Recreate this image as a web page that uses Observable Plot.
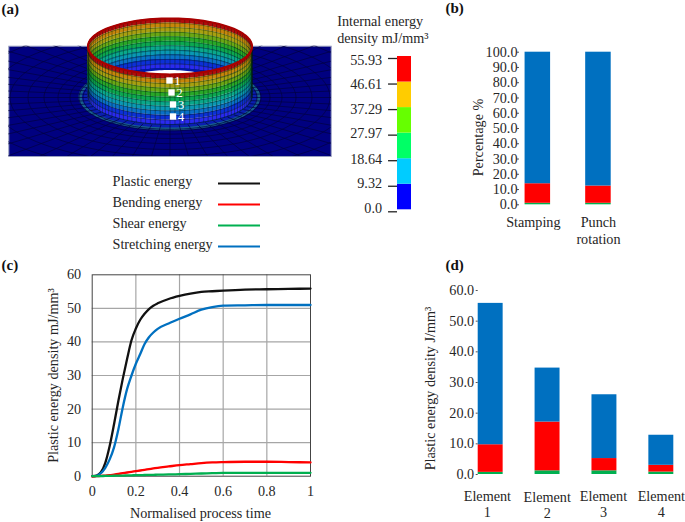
<!DOCTYPE html>
<html>
<head>
<meta charset="utf-8">
<script src="https://cdn.jsdelivr.net/npm/d3@7"></script>
<script src="https://cdn.jsdelivr.net/npm/@observablehq/plot@0.6"></script>
<style>
html,body{margin:0;padding:0;background:#fff;}
#page{position:relative;width:685px;height:522px;overflow:hidden;}
</style>
</head>
<body>
<div id="page"></div>
<script>
// ---------- data ----------
const energySeries = ["Plastic energy", "Bending energy", "Shear energy", "Stretching energy"];
const energyColors = ["#111111", "#ff0000", "#00b050", "#0070c0"];

const stackColors = ["#00b050", "#ff0000", "#0070c0"];

const methodCategories = ["Stamping", "Punch\nrotation"];
const methodLabelNudge = [-4.5, 0];
const methodShear = [1.0, 1.0];
const methodBending = [12.8, 11.3];
const methodStretching = [86.2, 87.7];
const percentTicks = [0, 10, 20, 30, 40, 50, 60, 70, 80, 90, 100];

const elementCategories = ["Element\n1", "Element\n2", "Element\n3", "Element\n4"];
const elementLabelNudgeX = [-3.3, -0.3, -1, 0];
const elementLabelNudgeY = [0, 1.5, 0, 0];
const elementShear = [0.7, 1.2, 1.2, 0.8];
const elementBending = [9.0, 15.9, 4.0, 2.2];
const elementStretching = [46.1, 17.6, 20.8, 9.8];
const densityTicks = [0, 10, 20, 30, 40, 50, 60];

const timeGrid = [0, 0.02, 0.04, 0.06, 0.08, 0.1, 0.12, 0.14, 0.16, 0.18, 0.2, 0.22, 0.24, 0.26, 0.28, 0.3, 0.35, 0.4, 0.45, 0.5, 0.55, 0.6, 0.7, 0.8, 0.9, 1];
const plasticCurve = [0, 0.2, 1.2, 4, 9, 15.5, 22.5, 29, 35, 40.5, 44, 46.6, 48.4, 49.8, 50.8, 51.5, 52.8, 53.7, 54.4, 54.9, 55.1, 55.3, 55.6, 55.7, 55.8, 55.9];
const stretchingCurve = [0, 0.1, 0.9, 2.5, 5, 8.6, 14, 20.5, 26, 30, 33.5, 36.4, 39.4, 41.4, 42.8, 43.9, 45.5, 46.9, 48.2, 49.6, 50.4, 50.8, 50.9, 51, 51, 51];
const bendingCurve = [-0.1, 0, 0.1, 0.2, 0.3, 0.5, 0.7, 0.9, 1.1, 1.3, 1.5, 1.7, 1.9, 2.1, 2.3, 2.5, 2.9, 3.3, 3.6, 3.9, 4.1, 4.2, 4.3, 4.3, 4.2, 4.1];
const shearCurve = [0, 0.02, 0.05, 0.07, 0.1, 0.13, 0.16, 0.19, 0.22, 0.26, 0.3, 0.33, 0.36, 0.39, 0.42, 0.45, 0.52, 0.6, 0.7, 0.8, 0.9, 1, 1, 1, 1, 1];

const contourValues = [0, 9.32, 18.64, 27.97, 37.29, 46.61, 55.93];
const contourLabels = ["0.0", "9.32", "18.64", "27.97", "37.29", "46.61", "55.93"];
const contourNudge = [-1.3, -1, 1, 0.6, 2, 2.3, 4];
const contourColors = ["#0000ff", "#00ccff", "#00ff66", "#66ff00", "#ffcc00", "#ff0000"];

const elementMarkers = [
  {label: "1", x: 169, y: 80},
  {label: "2", x: 171, y: 92},
  {label: "3", x: 172.5, y: 104},
  {label: "4", x: 172.5, y: 116}
];
const wallRowColors = ["#b00c0c", "#c8860a", "#a8a010", "#6aa814", "#28a828", "#0ca850", "#0aa88c", "#0a98b4", "#0a70c8", "#0c30d8", "#2a2af0"];

const panelLetters = [
  {t: "(a)", x: 1, y: 9},
  {t: "(b)", x: 445, y: 8},
  {t: "(c)", x: 1, y: 265},
  {t: "(d)", x: 445, y: 265}
];
const inkColor = "#262626";
const textSize = 14.2;

// ---------- helpers ----------
const page = document.getElementById("page");
const serif = "'Liberation Serif', 'Times New Roman', serif";
function add(opts) {
  const svg = Plot.plot({
    width: 685, height: 522,
    style: {position: "absolute", left: 0, top: 0, background: "transparent", fontFamily: serif, fontSize: textSize + "px", color: inkColor},
    ...opts
  });
  page.appendChild(svg);
}
const frameBox = (l, t, r, b) => ({marginLeft: l, marginTop: t, marginRight: 685 - r, marginBottom: 522 - b});

// ---------- panel (a): formed collar illustration ----------
const wall = {cx: 169.5, rx: 82, ry: 28, top: 46, height: 50};
const wallY = (v, t) => wall.top + v * wall.height + wall.ry * Math.sin(t);
const rows = wallRowColors.length;
function wallBands(t0, t1) {
  const out = [];
  wallRowColors.forEach((c, r) => {
    d3.range(0, 61).forEach(k => {
      const t = t0 + (t1 - t0) * k / 60;
      out.push({x: wall.cx + wall.rx * Math.cos(t), y1: wallY(r / rows, t), y2: wallY((r + 1) / rows, t), z: r, c});
    });
  });
  return out;
}
function wallMesh(t0, t1) {
  const out = [];
  d3.range(0, rows + 1).forEach(r => d3.range(0, 61).forEach(k => {
    const t = t0 + (t1 - t0) * k / 60;
    out.push({x: wall.cx + wall.rx * Math.cos(t), y: wallY(r / rows, t), z: "h" + r});
  }));
  const n = 52;
  d3.range(0, n + 1).forEach(k => {
    const t = t0 + (t1 - t0) * k / n;
    [0, 1].forEach(v => out.push({x: wall.cx + wall.rx * Math.cos(t), y: wallY(v, t), z: "v" + k}));
  });
  return out;
}
function disc(cx, cy, rx, ry, c, z) {
  return d3.range(0, 81).map(k => {
    const t = Math.PI * k / 80;
    return {x: cx + rx * Math.cos(t), y1: cy + ry * Math.sin(t), y2: cy - ry * Math.sin(t), c, z};
  });
}
const discs = [
  disc(169.5, 97, 91, 33.5, "#17608c", 0),
  disc(169.5, 97, 87.5, 30.5, "#0a1eb0", 1)
].flat();
const inner = [
  disc(wall.cx, wall.top + wall.height, wall.rx, wall.ry, "#0018a8", 0),
  disc(wall.cx, wall.top + wall.height, 65, 26, "#ffffff", 1)
].flat();
const plateMesh = [];
d3.range(0, 56).forEach(k => {
  const a = 2 * Math.PI * k / 56;
  [0, 1].forEach(s => plateMesh.push({x: 169.5 + (s ? 330 : 82) * Math.cos(a), y: 97 + (s ? 120 : 28) * Math.sin(a), z: "r" + k}));
});
[87, 91, 100, 112, 126, 142, 160, 180, 202].forEach((rx, i) => {
  d3.range(0, 121).forEach(k => {
    const a = 2 * Math.PI * k / 120;
    plateMesh.push({x: 169.5 + rx * Math.cos(a), y: 97 + rx * 0.366 * Math.sin(a), z: "c" + i});
  });
});

add({
  ...frameBox(8.3, 45.7, 330.7, 156),
  x: {domain: [8.3, 330.7], axis: null},
  y: {domain: [156, 45.7], axis: null},
  color: {type: "identity"},
  marks: [
    Plot.frame({fill: "#000080", stroke: "#9aa0c0", strokeWidth: 1}),
    Plot.areaY(discs, {x: "x", y1: "y1", y2: "y2", z: "z", fill: "c"}),
    Plot.line(plateMesh, {x: "x", y: "y", z: "z", stroke: "#000040", strokeWidth: 0.7, clip: "frame"}),
    Plot.areaY(wallBands(Math.PI, 2 * Math.PI), {x: "x", y1: "y1", y2: "y2", z: "z", fill: "c"}),
    Plot.line(wallMesh(Math.PI, 2 * Math.PI), {x: "x", y: "y", z: "z", stroke: "#00200a", strokeOpacity: 0.55, strokeWidth: 0.7}),
    Plot.areaY(inner, {x: "x", y1: "y1", y2: "y2", z: "z", fill: "c"}),
    Plot.areaY(wallBands(0, Math.PI), {x: "x", y1: "y1", y2: "y2", z: "z", fill: "c"}),
    Plot.line(wallMesh(0, Math.PI), {x: "x", y: "y", z: "z", stroke: "#00200a", strokeOpacity: 0.6, strokeWidth: 0.7}),
    Plot.line(d3.range(0, 121).map(k => {
      const t = 2 * Math.PI * k / 120;
      return {x: wall.cx + wall.rx * Math.cos(t), y: wallY(0, t)};
    }), {x: "x", y: "y", stroke: "#a80000", strokeWidth: 2.2}),
    Plot.dot(elementMarkers, {x: "x", y: "y", symbol: "square", r: 3.6, fill: "#fff"}),
    Plot.text(elementMarkers, {x: "x", y: "y", text: "label", dx: 8, fill: "#fff", fontSize: 13})
  ]
});

// contour bar
add({
  ...frameBox(397, 56, 411, 209.3),
  x: {domain: [0, 1], axis: null},
  y: {domain: [0, 55.93], axis: null},
  marks: [
    Plot.rect(contourColors, {x1: 0, x2: 1, y1: (d, i) => contourValues[i], y2: (d, i) => contourValues[i + 1], fill: d => d}),
    Plot.ruleY(contourValues, {x1: -0.64, x2: 0, dy: 2, stroke: "#222", strokeWidth: 1.3}),
    ...contourValues.map((v, i) => Plot.text([v], {
      y: d => d, x: -1.1, text: () => contourLabels[i], textAnchor: "end", dy: contourNudge[i], fill: inkColor, fontSize: textSize
    }))
  ]
});

// legend
add({
  marginLeft: 0, marginRight: 0, marginTop: 182.7, marginBottom: 522 - 246.3,
  x: {domain: [0, 685], axis: null},
  y: {type: "point", domain: energySeries, padding: 0, axis: null},
  marks: [
    Plot.ruleY(energySeries, {y: d => d, x1: 218, x2: 260, stroke: (d, i) => energyColors[i], strokeWidth: 2}),
    Plot.text(energySeries, {y: d => d, x: 112, text: d => d, textAnchor: "start", dy: -2, fill: inkColor, fontSize: textSize})
  ]
});

// ---------- panel (b) ----------
const methodRows = methodCategories.flatMap((m, i) => [methodShear[i], methodBending[i], methodStretching[i]].map((v, j) => ({m, v, c: stackColors[j]})));
add({
  ...frameBox(519, 51.7, 610.7, 204.3),
  x: {type: "band", domain: methodCategories, paddingInner: 0.579, paddingOuter: 0.046, align: 1, round: false, axis: null},
  y: {domain: [0, 100], axis: null},
  color: {type: "identity"},
  marks: [
    Plot.barY(methodRows, {x: "m", y: "v", fill: "c"}),
    Plot.ruleX([0], {y1: 0, y2: 100, stroke: "#666", strokeWidth: 1, frameAnchor: "left"}),
    Plot.axisY({ticks: percentTicks, tickSize: 2, tickPadding: 0, tickFormat: d => d.toFixed(1), fontSize: textSize, stroke: "#555", label: null}),
    ...methodCategories.map((m, i) => Plot.text([m], {x: d => d, text: d => d, frameAnchor: "bottom", lineAnchor: "top", dy: 10, dx: methodLabelNudge[i], lineHeight: 1.2, fill: inkColor, fontSize: textSize}))
  ]
});

// ---------- panel (c) ----------
const curveRows = [plasticCurve, bendingCurve, shearCurve, stretchingCurve].flatMap((ys, j) =>
  ys.map((y, i) => ({t: timeGrid[i], y, s: energySeries[j], c: energyColors[j]})));
add({
  ...frameBox(91.7, 274.3, 310, 475.7),
  x: {domain: [0, 1], axis: null},
  y: {domain: [0, 60], axis: null},
  color: {type: "identity"},
  marks: [
    Plot.gridX({ticks: [0.2, 0.4, 0.6, 0.8], stroke: "#a6a6a6", strokeOpacity: 1, strokeWidth: 1.2}),
    Plot.gridY({ticks: [10, 20, 30, 40, 50], stroke: "#a6a6a6", strokeOpacity: 1, strokeWidth: 1.2}),
    Plot.frame({stroke: "#444", strokeWidth: 1}),
    ...["Plastic energy", "Stretching energy", "Bending energy", "Shear energy"].map(s =>
      Plot.line(curveRows.filter(d => d.s === s), {x: "t", y: "y", stroke: "c", strokeWidth: 2.3, curve: "monotone-x"})),
    Plot.axisY({ticks: [0, 10, 20, 30, 40, 50, 60], tickSize: 0, tickPadding: 11, fontSize: textSize, label: null}),
    Plot.axisX({ticks: [0, 0.2, 0.4, 0.6, 0.8, 1], tickSize: 0, tickPadding: 10, fontSize: textSize, label: null, tickFormat: d => String(d)})
  ]
});

// ---------- panel (d) ----------
const elementRows = elementCategories.flatMap((m, i) => [elementShear[i], elementBending[i], elementStretching[i]].map((v, j) => ({m, v, c: stackColors[j]})));
add({
  ...frameBox(477.7, 290, 673.3, 474),
  x: {type: "band", domain: elementCategories, paddingInner: 32 / 57, paddingOuter: 0, round: false, axis: null},
  y: {domain: [0, 60], axis: null},
  color: {type: "identity"},
  marks: [
    Plot.barY(elementRows, {x: "m", y: "v", fill: "c"}),
    Plot.ruleX([0], {y1: 0, y2: 60, stroke: "#555", strokeWidth: 1, frameAnchor: "left"}),
    Plot.axisY({ticks: densityTicks, tickSize: 2, tickPadding: 2, tickFormat: d => d.toFixed(1), fontSize: textSize, stroke: "#555", label: null}),
    ...elementCategories.map((m, i) => Plot.text([m], {x: d => d, text: d => d, frameAnchor: "bottom", lineAnchor: "top", dy: 14.5 + elementLabelNudgeY[i], dx: elementLabelNudgeX[i], lineHeight: 1.15, fill: inkColor, fontSize: textSize}))
  ]
});

// ---------- free text ----------
const plainLabels = [
  {t: "Internal energy", x: 336.7, y: 21, a: "start", r: 0},
  {t: "density mJ/mm³", x: 336.7, y: 38, a: "start", r: 0},
  {t: "Percentage %", x: 477.7, y: 137, a: "middle", r: -90},
  {t: "Plastic energy density mJ/mm³", x: 53, y: 375, a: "middle", r: -90},
  {t: "Normalised process time", x: 200, y: 513, a: "middle", r: 0},
  {t: "Plastic energy density J/mm³", x: 430, y: 388, a: "middle", r: -90}
];
add({
  margin: 0,
  x: {domain: [0, 685], axis: null},
  y: {domain: [522, 0], axis: null},
  marks: [
    ...plainLabels.map(l => Plot.text([l], {x: "x", y: "y", text: "t", textAnchor: l.a, rotate: l.r, fill: inkColor, fontSize: textSize})),
    Plot.text(panelLetters, {x: "x", y: "y", text: "t", textAnchor: "start", fill: "#111", fontSize: 15, fontWeight: "bold"})
  ]
});
</script>
</body>
</html>
